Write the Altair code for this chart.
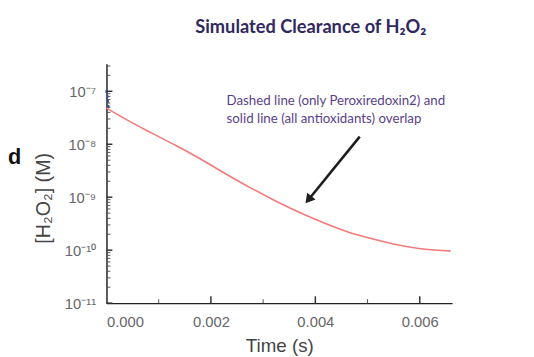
import altair as alt
import pandas as pd

# ---- data ----
time_s = [0.0, 0.0004, 0.00087, 0.00134, 0.00181, 0.00228, 0.00276,
          0.00323, 0.0037, 0.00417, 0.00464, 0.00511, 0.00559, 0.00606, 0.00659]
h2o2_M = [4.8e-8, 2.85e-8, 1.62e-8, 9.35e-9, 5.2e-9, 2.77e-9, 1.5e-9,
          8.6e-10, 5.15e-10, 3.26e-10, 2.19e-10, 1.62e-10, 1.25e-10, 1.05e-10, 9.7e-11]

dashed_time = [0.0, 0.00004]
dashed_h2o2 = [1.05e-7, 4.8e-8]

x_tick_values = [0.0, 0.002, 0.004, 0.006]
x_minor_values = [0.001, 0.003, 0.005]
y_tick_values = [1e-11, 1e-10, 1e-9, 1e-8, 1e-7]
y_tick_labels = ["10\u207b\u00b9\u00b9", "10\u207b\u00b9\u2070", "10\u207b\u2079",
                 "10\u207b\u2078", "10\u207b\u2077"]
y_minor_values = [m * d for d in [1e-11, 1e-10, 1e-9, 1e-8, 1e-7]
                  for m in range(2, 10) if m * d <= 3.3e-7]

arrow_tail = (0.00485, 1.39e-8)
arrow_head = (0.003868, 8.97e-10)

note_lines = ["Dashed line (only Peroxiredoxin2) and",
              "solid line (all antioxidants) overlap"]
note_time = [0.0023, 0.0023]
note_h2o2 = [6.5e-8, 3.0e-8]

title_text = "Simulated Clearance of H\u2082O\u2082"
x_title = "Time (s)"
y_title = "[H\u2082O\u2082] (M)"

X_DOMAIN = [0, 0.00662]
Y_DOMAIN = [1e-11, 3.3e-7]
W, H = 351, 243

# ---- build ----
curve = pd.DataFrame({"t": time_s, "c": h2o2_M})
dashed = pd.DataFrame({"t": dashed_time, "c": dashed_h2o2})

expr_parts = []
for v, lab in zip(y_tick_values[:-1], y_tick_labels[:-1]):
    expr_parts.append(f"datum.value < {v * 3:.1e} ? '{lab}'")
label_expr = " : ".join(expr_parts) + f" : '{y_tick_labels[-1]}'"

xs = alt.Scale(domain=X_DOMAIN, nice=False, zero=False)
ys = alt.Scale(type="log", domain=Y_DOMAIN, nice=False)

x_axis = alt.Axis(values=x_tick_values, format=".3f", ticks=False, grid=False,
                  domainColor="#222", domainWidth=1.5, labelFont="Liberation Sans",
                  labelFontSize=15, labelColor="#666", labelPadding=12,
                  title=x_title, titleFont="Liberation Sans", titleFontSize=19,
                  titleFontWeight="normal", titleColor="#444",
                  titleBaseline="alphabetic", titleY=49)
y_axis = alt.Axis(values=y_tick_values, labelExpr=label_expr, ticks=False, grid=False,
                  domainColor="#222", domainWidth=1.5, labelFont="Liberation Sans",
                  labelFontSize=15, labelColor="#666", labelPadding=11,
                  title=y_title, titleFont="Liberation Sans", titleFontSize=20,
                  titleFontWeight="normal", titleColor="#444",
                  titleX=-64, titleY=136, titleAlign="center", titleBaseline="middle")

line = alt.Chart(curve).mark_line(color="#f47a7a", strokeWidth=1.6,
                                  interpolate="monotone").encode(
    x=alt.X("t:Q", scale=xs, axis=x_axis),
    y=alt.Y("c:Q", scale=ys, axis=y_axis),
)

dash_line = alt.Chart(dashed).mark_line(color="#3b4fb0", strokeWidth=2.5,
                                        strokeDash=[3, 2]).encode(
    x=alt.X("t:Q", scale=xs), y=alt.Y("c:Q", scale=ys))

ymaj = alt.Chart(pd.DataFrame({"v": y_tick_values})).mark_rule(
    color="#333", strokeWidth=1.5).encode(
    y=alt.Y("v:Q", scale=ys), x=alt.value(0), x2=alt.value(6))
ymin = alt.Chart(pd.DataFrame({"v": y_minor_values})).mark_rule(
    color="#555", strokeWidth=1).encode(
    y=alt.Y("v:Q", scale=ys), x=alt.value(0), x2=alt.value(4))
xmaj = alt.Chart(pd.DataFrame({"v": x_tick_values[1:]})).mark_rule(
    color="#333", strokeWidth=1.5).encode(
    x=alt.X("v:Q", scale=xs), y=alt.value(H), y2=alt.value(H - 7))
xmin = alt.Chart(pd.DataFrame({"v": x_minor_values})).mark_rule(
    color="#555", strokeWidth=1).encode(
    x=alt.X("v:Q", scale=xs), y=alt.value(H), y2=alt.value(H - 4))

arrow_df = pd.DataFrame({"t": [arrow_tail[0]], "c": [arrow_tail[1]],
                         "t2": [arrow_head[0]], "c2": [arrow_head[1]]})
shaft = alt.Chart(arrow_df).mark_rule(color="#1e1e1e", strokeWidth=2.6).encode(
    x=alt.X("t:Q", scale=xs), y=alt.Y("c:Q", scale=ys),
    x2="t2:Q", y2="c2:Q")
head = alt.Chart(arrow_df).mark_point(shape="triangle-up", filled=True, size=120,
                                      color="#1e1e1e", opacity=1, angle=219).encode(
    x=alt.X("t2:Q", scale=xs), y=alt.Y("c2:Q", scale=ys))

note = alt.Chart(pd.DataFrame({"t": note_time, "c": note_h2o2, "s": note_lines})).mark_text(
    align="left", baseline="middle", font="Lato", fontSize=13.5, color="#5b3f8c").encode(
    x=alt.X("t:Q", scale=xs), y=alt.Y("c:Q", scale=ys), text="s:N")

frag = alt.Chart(pd.DataFrame({"s": ["d"]})).mark_text(
    align="left", baseline="alphabetic", font="Liberation Sans", fontWeight="bold",
    fontSize=22, color="#111").encode(
    x=alt.value(-100), y=alt.value(102), text="s:N")

chart = alt.layer(line, dash_line, ymaj, ymin, xmaj, xmin, shaft, head, note, frag).properties(
    width=W, height=H,
    title=alt.TitleParams(title_text, font="Lato", fontSize=18.5, fontWeight="bold",
                          color="#30285e", anchor="middle", dx=32, offset=28),
    autosize=alt.AutoSizeParams(type="none"),
    padding={"left": 100, "top": 54, "right": 75, "bottom": 52},
).configure_view(stroke=None)

chart.save("out.html", embed_options={"renderer": "svg", "actions": False})
